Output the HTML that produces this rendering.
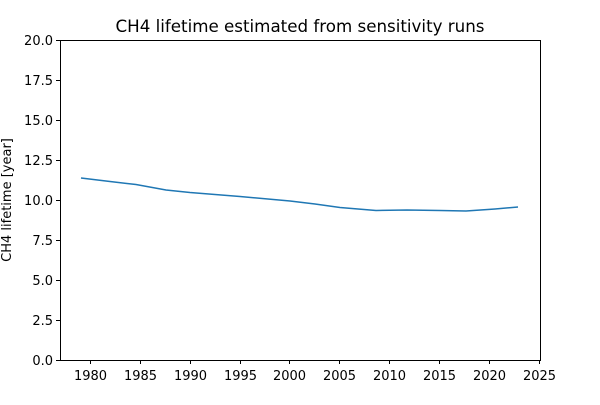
<!DOCTYPE html>
<html><head><style>body{margin:0;background:#fff}</style></head><body>
<svg width="600" height="400" xmlns="http://www.w3.org/2000/svg" font-family="'DejaVu Sans','Liberation Sans',sans-serif">
<rect width="600" height="400" fill="#fff"/>
<text x="300" y="32" font-size="16.7" text-anchor="middle">CH4 lifetime estimated from sensitivity runs</text>
<polyline fill="none" stroke="#1f77b4" stroke-width="1.5" points="81,178 110,181.5 136,184.5 166,190 190,192.5 240,196.5 290,201 315,204 340,207.5 376,210.5 407,210 440,210.5 466,211 495,209 518,207"/>
<rect x="60.5" y="40.5" width="480" height="320" fill="none" stroke="#000" stroke-width="1"/>
<g stroke="#000" stroke-width="1">
<line x1="90.5" y1="360" x2="90.5" y2="364"/><line x1="140.5" y1="360" x2="140.5" y2="364"/><line x1="190.5" y1="360" x2="190.5" y2="364"/><line x1="240.5" y1="360" x2="240.5" y2="364"/><line x1="289.5" y1="360" x2="289.5" y2="364"/><line x1="339.5" y1="360" x2="339.5" y2="364"/><line x1="389.5" y1="360" x2="389.5" y2="364"/><line x1="439.5" y1="360" x2="439.5" y2="364"/><line x1="489.5" y1="360" x2="489.5" y2="364"/><line x1="539.5" y1="360" x2="539.5" y2="364"/>
<line x1="56" y1="360.5" x2="60" y2="360.5"/><line x1="56" y1="320.5" x2="60" y2="320.5"/><line x1="56" y1="280.5" x2="60" y2="280.5"/><line x1="56" y1="240.5" x2="60" y2="240.5"/><line x1="56" y1="200.5" x2="60" y2="200.5"/><line x1="56" y1="160.5" x2="60" y2="160.5"/><line x1="56" y1="120.5" x2="60" y2="120.5"/><line x1="56" y1="80.5" x2="60" y2="80.5"/><line x1="56" y1="40.5" x2="60" y2="40.5"/>
</g>
<g font-size="13" text-anchor="middle">
<text x="90.5" y="380">1980</text><text x="140.5" y="380">1985</text><text x="190.5" y="380">1990</text><text x="240.5" y="380">1995</text><text x="289.5" y="380">2000</text><text x="339.5" y="380">2005</text><text x="389.5" y="380">2010</text><text x="439.5" y="380">2015</text><text x="489.5" y="380">2020</text><text x="539.5" y="380">2025</text>
</g>
<g font-size="13" text-anchor="end">
<text x="53" y="365">0.0</text><text x="53" y="325">2.5</text><text x="53" y="285">5.0</text><text x="53" y="245">7.5</text><text x="53" y="205">10.0</text><text x="53" y="165">12.5</text><text x="53" y="125">15.0</text><text x="53" y="85">17.5</text><text x="53" y="45">20.0</text>
</g>
<text transform="translate(11,200) rotate(-90)" font-size="13" text-anchor="middle">CH4 lifetime [year]</text>
</svg>
</body></html>
